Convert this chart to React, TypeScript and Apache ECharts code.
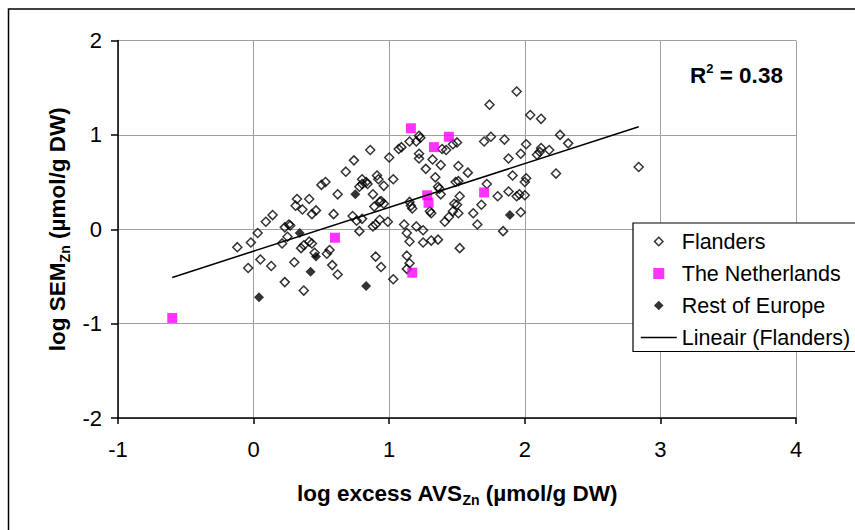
import React, { useEffect, useRef } from "react";
import * as echarts from "echarts";

// log excess AVS_Zn (x) vs log SEM_Zn (y), µmol/g DW
const flanders: [number, number][] = [
  [-0.12, -0.19], [-0.02, -0.14], [0.03, -0.04], [-0.04, -0.41], [0.05, -0.32],
  [0.09, 0.08], [0.14, 0.15], [0.13, -0.39], [0.21, -0.15], [0.23, 0.02],
  [0.26, 0.05], [0.27, 0.04], [0.25, -0.08], [0.23, -0.56], [0.30, -0.35],
  [0.32, 0.32], [0.31, 0.25], [0.36, 0.21], [0.35, -0.20], [0.37, -0.17],
  [0.37, -0.65], [0.41, 0.32], [0.43, 0.16], [0.46, 0.20], [0.41, -0.13],
  [0.43, -0.15], [0.45, -0.25], [0.50, 0.47], [0.53, 0.50], [0.56, -0.22],
  [0.54, -0.26], [0.59, 0.16], [0.58, -0.38], [0.62, 0.37], [0.62, -0.48],
  [0.68, 0.61], [0.74, 0.73], [0.73, 0.14], [0.76, 0.09], [0.78, -0.02],
  [0.80, 0.11], [0.78, 0.45], [0.80, 0.48], [0.80, 0.53], [0.83, 0.50],
  [0.86, 0.84], [0.84, 0.48], [0.88, 0.37], [0.90, -0.29], [0.89, 0.24],
  [0.88, 0.03], [0.90, 0.05], [0.91, 0.57], [0.92, 0.53], [0.94, 0.30],
  [0.93, 0.29], [0.96, 0.27], [0.94, -0.40], [0.96, 0.46], [1.00, 0.76],
  [0.99, 0.08], [0.93, 0.10], [1.03, 0.53], [1.03, -0.53], [1.07, 0.85],
  [1.09, 0.87], [1.15, 0.93], [1.13, -0.28], [1.11, 0.05], [1.13, -0.04],
  [1.13, -0.42], [1.15, -0.13], [1.15, -0.36], [1.15, 0.29], [1.16, 0.25],
  [1.17, 0.22], [1.20, 0.93], [1.22, 0.99], [1.23, 0.97], [1.22, 0.80],
  [1.22, 0.75], [1.20, 0.03], [1.25, -0.01], [1.25, -0.14], [1.27, 0.64],
  [1.31, -0.12], [1.31, 0.17], [1.30, 0.19], [1.32, 0.74], [1.34, 0.55],
  [1.36, -0.11], [1.38, 0.68], [1.38, 0.37], [1.37, 0.43], [1.36, 0.45],
  [1.39, 0.85], [1.42, 0.84], [1.41, 0.08], [1.44, 0.13], [1.47, 0.19],
  [1.48, 0.27], [1.49, 0.50], [1.51, 0.51], [1.47, 0.90], [1.50, 0.92],
  [1.52, -0.20], [1.51, 0.67], [1.52, 0.35], [1.50, 0.26], [1.51, 0.17],
  [1.58, 0.60], [1.62, 0.17], [1.65, 0.05], [1.68, 0.26], [1.70, 0.93],
  [1.72, 0.48], [1.74, 1.32], [1.75, 0.98], [1.80, 0.35], [1.84, -0.02],
  [1.85, 0.95], [1.88, 0.75], [1.88, 0.40], [1.91, 0.57], [1.94, 0.35],
  [1.96, 0.37], [1.94, 1.46], [1.97, 0.18], [1.97, 0.80], [2.00, 0.36],
  [2.00, 0.50], [2.01, 0.54], [2.01, 0.90], [2.04, 1.21], [2.09, 0.79],
  [2.11, 0.82], [2.12, 1.17], [2.12, 0.86], [2.18, 0.84], [2.23, 0.59],
  [2.26, 1.00], [2.32, 0.91], [2.84, 0.66],
];

const netherlands: [number, number][] = [
  [-0.60, -0.94], [0.60, -0.09], [1.16, 1.07], [1.17, -0.46], [1.28, 0.36],
  [1.29, 0.28], [1.33, 0.87], [1.44, 0.98], [1.70, 0.39],
];

const restOfEurope: [number, number][] = [
  [0.04, -0.72], [0.34, -0.04], [0.42, -0.45], [0.46, -0.29], [0.75, 0.37],
  [0.83, -0.60], [1.89, 0.15],
];

// Linear fit of the Flanders data
const trendSlope = 0.464;
const trendIntercept = -0.232;
const trendXRange = [-0.6, 2.84];
const rSquared = "0.38";

const seriesNames = ["Flanders", "The Netherlands", "Rest of Europe", "Lineair (Flanders)"];

const xRange = { min: -1, max: 4, interval: 1 };
const yRange = { min: -2, max: 2, interval: 1 };

const FONT = "'Liberation Sans', Arial, Helvetica, sans-serif";

// Legend markers as paths; the leading move-to points pad the box so the
// marker keeps its own size inside the 36x12 legend icon cell.
const legendDiamondHollow = "path://M0,0M12,12M6,1.8L10.2,6L6,10.2L1.8,6Z";
const legendDiamondFilled = "path://M0,0M12,12M6,1.2L10.8,6L6,10.8L1.2,6Z";
const legendSquare = "path://M0,0M12,12M0.5,0.5L11.5,0.5L11.5,11.5L0.5,11.5Z";

export default function App() {
  const ref = useRef<HTMLDivElement>(null);

  useEffect(() => {
    if (!ref.current) return;
    const chart = echarts.init(ref.current, null, { renderer: "svg" });
    const trendData = trendXRange.map((x) => [x, trendSlope * x + trendIntercept]);

    const titleRich = {
      a: { fontSize: 22.5, fontWeight: "bold", color: "#000", fontFamily: FONT, lineHeight: 28 },
      s: {
        fontSize: 14,
        fontWeight: "bold",
        color: "#000",
        fontFamily: FONT,
        lineHeight: 16,
        verticalAlign: "bottom",
      },
    };

    chart.setOption({
      animation: false,
      backgroundColor: "#ffffff",
      textStyle: { fontFamily: FONT, color: "#000" },
      grid: {
        left: 118,
        top: 40.5,
        right: 59,
        bottom: 112,
        containLabel: false,
        outerBoundsMode: "none",
      },
      xAxis: {
        type: "value",
        ...xRange,
        name: "{a|log excess AVS}{s|Zn}{a| (µmol/g DW)}",
        nameLocation: "middle",
        nameGap: 61,
        nameTextStyle: { rich: titleRich },
        axisLine: { onZero: false, lineStyle: { color: "#000", width: 1.5 } },
        axisTick: { show: true, inside: false, length: 6, lineStyle: { color: "#000", width: 1.5 } },
        axisLabel: { fontSize: 22, color: "#000", margin: 20, fontFamily: FONT },
        splitLine: { show: true, lineStyle: { color: "#a0a0a0", width: 1 } },
      },
      yAxis: {
        type: "value",
        ...yRange,
        name: "{a|log SEM}{s|Zn}{a| (µmol/g DW)}",
        nameLocation: "middle",
        nameGap: 34,
        nameTextStyle: { rich: titleRich },
        axisLine: { show: true, onZero: false, lineStyle: { color: "#000", width: 1.5 } },
        axisTick: { show: true, inside: false, length: 7, lineStyle: { color: "#000", width: 1.5 } },
        axisLabel: { fontSize: 22, color: "#000", margin: 16, fontFamily: FONT },
        splitLine: { show: true, lineStyle: { color: "#a0a0a0", width: 1 } },
      },
      legend: {
        orient: "vertical",
        left: 633,
        top: 223,
        padding: [7.5, 6, 3, 7],
        itemWidth: 36,
        itemHeight: 12,
        itemGap: 10,
        symbolKeepAspect: true,
        borderColor: "#000",
        borderWidth: 1.2,
        backgroundColor: "#fff",
        textStyle: { fontSize: 21.5, color: "#000", lineHeight: 22, fontFamily: FONT },
        data: [
          {
            name: seriesNames[0],
            icon: legendDiamondHollow,
            itemStyle: { color: "transparent", borderColor: "#000", borderWidth: 1.5 },
          },
          { name: seriesNames[1], icon: legendSquare, itemStyle: { color: "#ff00ff", borderWidth: 0 } },
          { name: seriesNames[2], icon: legendDiamondFilled, itemStyle: { color: "#000", borderWidth: 0 } },
          {
            name: seriesNames[3],
            itemStyle: { color: "transparent", borderColor: "transparent", borderWidth: 0 },
            lineStyle: { color: "#000", width: 1.5 },
          },
        ],
      },
      graphic: [
        {
          type: "rect",
          silent: true,
          z: -10,
          shape: { x: 8.5, y: 9, width: 1000, height: 1000 },
          style: { fill: "none", stroke: "#000", lineWidth: 1.5 },
        },
        {
          type: "text",
          left: 690,
          top: 62,
          style: {
            text: `{b|R}{sup|2}{b| = ${rSquared}}`,
            rich: {
              b: { fontSize: 22.5, fontWeight: "bold", fill: "#000", fontFamily: FONT, lineHeight: 26 },
              sup: {
                fontSize: 13,
                fontWeight: "bold",
                fill: "#000",
                fontFamily: FONT,
                lineHeight: 14,
                verticalAlign: "top",
              },
            },
          },
        },
      ],
      series: [
        {
          name: seriesNames[0],
          type: "scatter",
          data: flanders,
          symbol: "diamond",
          symbolSize: 9,
          itemStyle: { color: "transparent", borderColor: "#000", borderWidth: 1.5 },
          z: 2,
        },
        {
          name: seriesNames[1],
          type: "scatter",
          data: netherlands,
          symbol: "rect",
          symbolSize: 10,
          itemStyle: { color: "#ff00ff" },
          z: 3,
        },
        {
          name: seriesNames[2],
          type: "scatter",
          data: restOfEurope,
          symbol: "diamond",
          symbolSize: 10,
          itemStyle: { color: "#000" },
          z: 3,
        },
        {
          name: seriesNames[3],
          type: "line",
          data: trendData,
          symbol: "none",
          showSymbol: false,
          lineStyle: { color: "#000", width: 1.5 },
          itemStyle: { color: "#000" },
          z: 4,
        },
      ],
    });

    return () => chart.dispose();
  }, []);

  return (
    <div
      ref={ref}
      style={{ position: "absolute", left: 0, top: 0, width: 855, height: 530, background: "#fff" }}
    />
  );
}
